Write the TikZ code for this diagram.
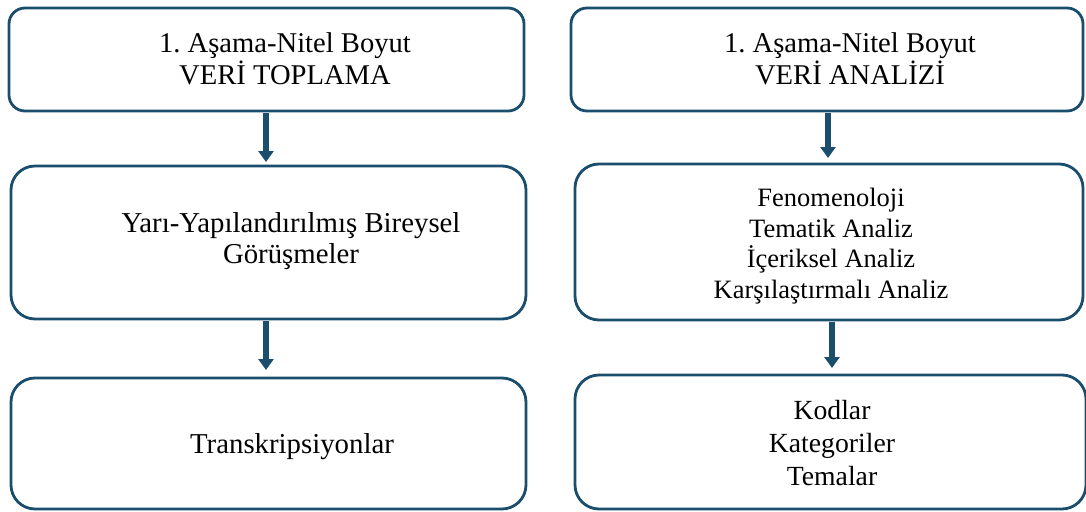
\documentclass[tikz,border=0pt]{standalone}
\usepackage{fontspec}
\setmainfont{Liberation Serif}
\usetikzlibrary{arrows.meta}
\definecolor{frame}{HTML}{1A4E6C}
\tikzset{
  box/.style={draw=frame, line width=2.8pt, outer sep=0pt, inner sep=0pt, fill=white},
  lbl/.style={align=center, text=black, inner sep=0pt, outer sep=0pt},
  flow/.style={draw=frame, line width=5.5pt, -{Triangle[width=15pt,length=11pt]}},
}
\begin{document}
\begin{tikzpicture}[x=1pt,y=-1pt]
\useasboundingbox (0,0) rectangle (1086,511);

% left column: data collection
\node[box, rounded corners=16pt, minimum width=515pt, minimum height=103pt] (L1) at (266.5,59.5) {};
\node[box, rounded corners=24pt, minimum width=515pt, minimum height=153pt] (L2) at (268.5,242.5) {};
\node[box, rounded corners=24pt, minimum width=515pt, minimum height=131pt] (L3) at (268.5,443.5) {};

% right column: data analysis
\node[box, rounded corners=16pt, minimum width=512pt, minimum height=103pt] (R1) at (827,59.5) {};
\node[box, rounded corners=24pt, minimum width=508pt, minimum height=156pt] (R2) at (829,242) {};
\node[box, rounded corners=24pt, minimum width=511pt, minimum height=134pt] (R3) at (830.5,442) {};

% texts
\node[lbl, font=\fontsize{28.6}{31.5}\selectfont] (tL1) at (285,59) {1.\ Aşama-Nitel Boyut\\VERİ TOPLAMA};
\node[lbl, font=\fontsize{28.8}{31.5}\selectfont] (tL2) at (291,241) {Yarı-Yapılandırılmış Bireysel\\Görüşmeler};
\node[lbl, font=\fontsize{28.8}{31.5}\selectfont] (tL3) at (292,447) {Transkripsiyonlar};
\node[lbl, font=\fontsize{28.6}{31.5}\selectfont] (tR1) at (850,59) {1.\ Aşama-Nitel Boyut\\VERİ ANALİZİ};
\node[lbl, font=\fontsize{26.5}{30.5}\selectfont] (tR2) at (831,246) {Fenomenoloji\\Tematik Analiz\\İçeriksel Analiz\\Karşılaştırmalı Analiz};
\node[lbl, font=\fontsize{27.7}{33}\selectfont] (tR3) at (832,443) {Kodlar\\Kategoriler\\Temalar};

% arrow columns
\coordinate (a1) at (266,0);
\coordinate (a2) at (266,0);
\coordinate (a3) at (828,0);
\coordinate (a4) at (832,0);

\draw[flow, shorten <=2pt, shorten >=4pt] (L1.south -| a1) -- (L2.north -| a1);
\draw[flow, shorten <=2pt, shorten >=8pt] (L2.south -| a2) -- (L3.north -| a2);
\draw[flow, shorten <=2pt, shorten >=6pt] (R1.south -| a3) -- (R2.north -| a3);
\draw[flow, shorten <=2pt, shorten >=7pt] (R2.south -| a4) -- (R3.north -| a4);
\end{tikzpicture}
\end{document}
